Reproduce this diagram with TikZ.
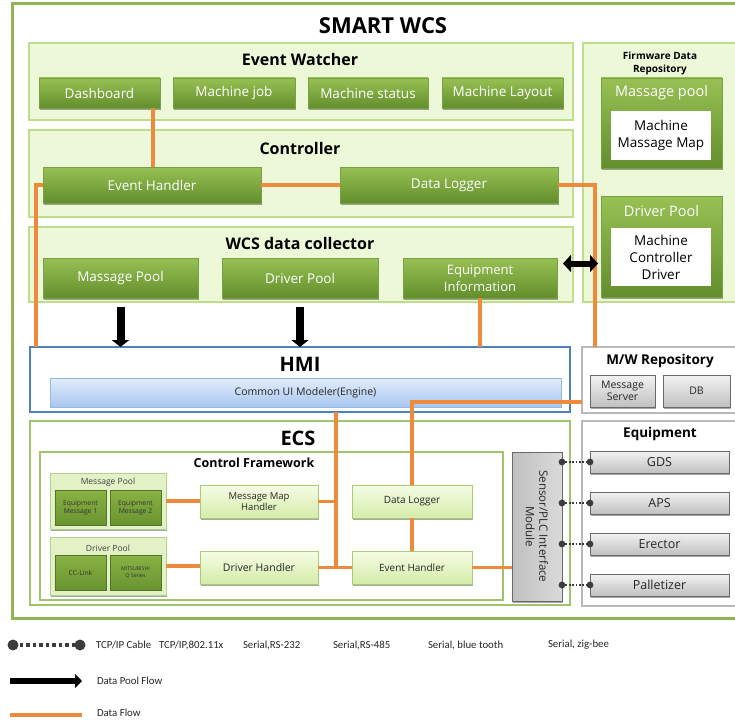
\documentclass[tikz,border=0pt]{standalone}
\usepackage{fontspec}
\setmainfont{Open Sans}
\newfontfamily\legendfont{Carlito}
\usetikzlibrary{arrows.meta,shadows,calc}
\definecolor{outerg}{RGB}{145,180,85}
\definecolor{pnlfill}{RGB}{236,248,216}
\definecolor{pnlborder}{RGB}{190,222,140}
\definecolor{btntop}{RGB}{152,192,84}
\definecolor{btnbot}{RGB}{98,142,44}
\definecolor{btnborder}{RGB}{120,160,70}
\definecolor{lgtop}{RGB}{246,252,230}
\definecolor{lgbot}{RGB}{212,236,168}
\definecolor{lgborder}{RGB}{168,204,118}
\definecolor{subfill}{RGB}{226,242,198}
\definecolor{subborder}{RGB}{178,210,138}
\definecolor{dgtop}{RGB}{138,178,68}
\definecolor{dgbot}{RGB}{104,148,48}
\definecolor{grtop}{RGB}{242,242,242}
\definecolor{grbot}{RGB}{192,192,192}
\definecolor{grborder}{RGB}{105,105,105}
\definecolor{grpanel}{RGB}{185,185,185}
\definecolor{hmiblue}{RGB}{79,129,189}
\definecolor{uitop}{RGB}{226,237,251}
\definecolor{uibot}{RGB}{168,198,240}
\definecolor{uiborder}{RGB}{150,185,225}
\definecolor{flowc}{RGB}{238,138,60}
\definecolor{ecsg}{RGB}{160,195,110}
\definecolor{dotc}{RGB}{60,60,60}
% box from corners: style, name, x1, y1, x2, y2, text
\newcommand\bx[7]{\node[#1, minimum width={#5-#3}, minimum height={#6-#4}] (#2) at ({(#3+#5)/2},{(#4+#6)/2}) {#7};}
\tikzset{
 every node/.style={inner sep=0pt, outer sep=0pt},
 outerbox/.style={draw=outerg, line width=3pt, fill=white},
 panel/.style={draw=pnlborder, line width=1.8pt, fill=pnlfill, pshadow},
 wpanel/.style={draw=ecsg, line width=2pt, fill=white},
 gpanel/.style={draw=grpanel, line width=1.8pt, fill=white},
 hmipanel/.style={draw=hmiblue, line width=1.8pt, fill=white},
 ttl/.style={font=\bfseries\fontsize{16}{19}\selectfont, text=black},
 bigttl/.style={font=\bfseries\fontsize{20}{23}\selectfont, text=black},
 smallttl/.style={font=\bfseries\fontsize{13.5}{16}\selectfont, text=black},
 mshadow/.style={drop shadow={shadow xshift=1.2pt, shadow yshift=-1.8pt, opacity=0.35, fill=black}},
 pshadow/.style={drop shadow={shadow xshift=1pt, shadow yshift=-1.2pt, opacity=0.15, fill=black}},
 btn/.style={draw=btnborder, line width=0.5pt, top color=btntop, bottom color=btnbot, text=white, align=center, font=\fontsize{13.5}{17}\selectfont, mshadow},
 whitebox/.style={fill=white, draw=none, align=center, font=\fontsize{13.5}{17}\selectfont, text=black},
 lbtn/.style={draw=lgborder, line width=0.6pt, top color=lgtop, bottom color=lgbot, align=center, font=\fontsize{10.5}{12}\selectfont, text=black!85, mshadow},
 subbox/.style={draw=subborder, line width=0.8pt, fill=subfill, mshadow},
 dbtn/.style={draw=dgbot!80!black, line width=0.4pt, top color=dgtop, bottom color=dgbot, align=center, font=\fontsize{6.8}{8}\selectfont, text=black!80},
 gbtn/.style={draw=grborder, line width=0.8pt, top color=grtop, bottom color=grbot, align=center, font=\fontsize{12.5}{14}\selectfont, text=black!85, mshadow},
 uibar/.style={draw=uiborder, line width=0.8pt, top color=uitop, bottom color=uibot, font=\fontsize{10.5}{12}\selectfont, text=black!85},
 flow/.style={draw=flowc, line width=3.2pt},
 cable/.style={draw=dotc, line width=1.4pt, dash pattern=on 1.8pt off 1.6pt},
 poolarrow/.style={draw=black, line width=8pt, -{Triangle[width=17pt,length=7pt]}},
 legtext/.style={anchor=west, font=\legendfont\fontsize{10.8}{13}\selectfont, text=black!85},
}
\begin{document}
\begin{tikzpicture}[x=1pt,y=-1pt]
\useasboundingbox (0,0) rectangle (735,722);
\clip (0,0) rectangle (735,722);

% outer
\bx{outerbox}{wcs}{12}{4}{745}{618}{}
\node[font=\bfseries\fontsize{22}{26}\selectfont] (wcst) at (383,26) {SMART WCS};

% Event watcher
\bx{panel}{ew}{29}{43}{573}{120}{}
\node[ttl] (ewt) at (300,60) {Event Watcher};
\bx{btn}{dash}{39}{78}{160}{108}{Dashboard}
\bx{btn}{mjob}{173}{78}{295}{108}{Machine job}
\bx{btn}{mstat}{308}{78}{428}{108}{Machine status}
\bx{btn}{mlay}{442}{78}{563}{108}{Machine Layout}

% Controller
\bx{panel}{ctrl}{29}{130}{573}{217}{}
\node[ttl] (ctrlt) at (300,148) {Controller};
\bx{btn}{evh}{43}{167}{261}{203}{Event Handler}
\bx{btn}{dlog}{340}{167}{558}{203}{Data Logger}

% WCS data collector
\bx{panel}{coll}{29}{227}{573}{302}{}
\node[ttl] (collt) at (300,243) {WCS data collector};
\bx{btn}{mpool}{43}{258}{198}{298}{Massage Pool}
\bx{btn}{dpool}{222}{258}{378}{298}{Driver Pool}
\bx{btn,font=\fontsize{13}{17}\selectfont}{einfo}{403}{258}{557}{298}{Equipment\\Information}

% Firmware data repository
\bx{panel}{fw}{583}{43}{745}{302}{}
\node[font=\bfseries\fontsize{10}{12.5}\selectfont, align=center] (fwt) at (660,63.5) {Firmware Data\\Repository};
\bx{btn}{fmp}{601}{78}{722}{168}{}
\node[text=white, font=\fontsize{14.5}{17}\selectfont] (fmpt) at (661.5,93) {Massage pool};
\bx{whitebox}{fmpi}{611}{111}{711}{160}{Machine\\Massage Map}
\bx{btn}{fdp}{601}{196}{722}{297}{}
\node[text=white, font=\fontsize{14.5}{17}\selectfont] (fdpt) at (661.5,211) {Driver Pool};
\bx{whitebox}{fdpi}{611}{228}{711}{286}{Machine\\Controller\\Driver}

% HMI
\bx{hmipanel}{hmi}{30}{347}{570}{412}{}
\node[bigttl] (hmit) at (300,364) {HMI};
\bx{uibar}{ui}{50}{378}{561}{407}{Common UI Modeler(Engine)}

% M/W repository
\bx{gpanel}{mw}{582}{347}{745}{413}{}
\node[smallttl] (mwt) at (660,361) {M/W Repository};
\bx{gbtn,font=\fontsize{10.5}{12}\selectfont}{msrv}{590}{375}{655}{407}{Message\\Server}
\bx{gbtn,font=\fontsize{10.5}{12}\selectfont}{db}{663}{375}{730}{407}{DB}

% ECS
\bx{wpanel}{ecs}{30}{421}{570}{605}{}
\node[bigttl] (ecst) at (298,438) {ECS};
\bx{draw=ecsg, line width=1.8pt, fill=white}{cf}{40}{452}{503}{600}{}
\node[font=\bfseries\fontsize{12.5}{15}\selectfont] (cft) at (254,463) {Control Framework};

\bx{subbox}{mpsub}{50}{473}{166}{529}{}
\node[font=\fontsize{8.5}{10}\selectfont, text=black!75] (mpsubt) at (108,482) {Message Pool};
\bx{dbtn}{em1}{55}{490}{106}{525}{Equipment\\Message 1}
\bx{dbtn}{em2}{110}{490}{161}{525}{Equipment\\Message 2}

\bx{subbox}{dpsub}{50}{537}{166}{595}{}
\node[font=\fontsize{8.5}{10}\selectfont, text=black!75] (dpsubt) at (108,548) {Driver Pool};
\bx{dbtn}{cc}{55}{555}{106}{590}{CC-Link}
\bx{dbtn,font=\fontsize{5.2}{6.5}\selectfont}{mq}{110}{555}{161}{590}{MITSUBISHI\\Q Series}

\bx{lbtn,font=\fontsize{9.5}{11}\selectfont}{mmh}{200}{485}{318}{518}{Message Map\\Handler}
\bx{lbtn}{drh}{200}{551}{318}{584}{Driver Handler}
\bx{lbtn,font=\fontsize{10}{12}\selectfont}{edl}{352}{485}{472}{518}{Data Logger}
\bx{lbtn,font=\fontsize{10}{12}\selectfont}{eeh}{352}{551}{472}{584}{Event Handler}

\bx{draw=grborder, line width=1pt, left color=grbot, right color=grtop!90!black, mshadow}{spm}{512}{452}{562}{601}{}
\node[rotate=-90, align=center, font=\fontsize{11.5}{13.5}\selectfont, text=black!85] (spmt) at (spm) {Sensor/PLC Interface\\Module};

% Equipment
\bx{gpanel}{eq}{582}{421}{745}{606}{}
\node[smallttl] (eqt) at (660,434) {Equipment};
\bx{gbtn}{gds}{590}{451}{729}{473}{GDS}
\bx{gbtn}{aps}{590}{492}{729}{514}{APS}
\bx{gbtn}{ere}{590}{533}{729}{555}{Erector}
\bx{gbtn}{pal}{590}{574}{729}{596}{Palletizer}

% helper coordinates
\coordinate (xdash) at (153,0);
\coordinate (xleft) at (36,0);
\coordinate (xright) at (595,0);
\coordinate (xmid) at (336,0);
\coordinate (ymw) at (0,402);

% data flow (orange)
\draw[flow] (dash.south -| xdash) -- (evh.north -| xdash);
\draw[flow] (evh.east) -- (dlog.west);
\draw[flow] (evh.west) -| (hmi.north -| xleft);
\draw[flow] (dlog.east) -| (mw.north -| xright);
\draw[flow] (einfo.south) -- (einfo.south |- hmi.north);
\draw[flow] (mw.west |- ymw) -| (edl.north);
\draw[flow] (hmi.south -| xmid) -- (drh.east -| xmid);
\draw[flow] (mmh.east) -- (mmh.east -| xmid);
\draw[flow] (drh.east) -- (eeh.west);
\draw[flow] (mpsub.east) -- (mpsub.east -| mmh.west);
\draw[flow] (dpsub.east) -- (dpsub.east -| drh.west);
\draw[flow] (edl.south) -- (eeh.north);
\draw[flow] (eeh.east) -- (eeh.east -| spm.west);

% data pool flow (black)
\draw[poolarrow] ($(mpool.south)+(0,9)$) -- (mpool.south |- hmi.north);
\draw[poolarrow] ($(dpool.south)+(0,9)$) -- (dpool.south |- hmi.north);
\draw[draw=black, line width=6pt, {Triangle[width=17pt,length=8pt]}-{Triangle[width=17pt,length=8pt]}]
  ($(coll.east)+(-10,-1)$) -- ($(fw.west |- coll.east)+(15,-1)$);

% cables
\foreach \e in {gds,aps,ere,pal}{
  \draw[cable] (spm.east |- \e.west) -- (\e.west);
  \fill[dotc] (spm.east |- \e.west) circle (3.4);
  \fill[dotc] (\e.west) circle (3.4);
}

% legend
\coordinate (l1a) at (13,645);
\coordinate (l1b) at (80,645);
\draw[draw=dotc, line width=4pt, dash pattern=on 3.5pt off 3pt] (l1a) -- (l1b);
\fill[dotc] (l1a) circle (5.5);
\fill[dotc] (l1b) circle (5.5);
\node[legtext] (lg1) at (96,645) {TCP/IP Cable};
\node[legtext] (lg2) at (159,645) {TCP/IP,802.11x};
\node[legtext] (lg3) at (243,645) {Serial,RS-232};
\node[legtext] (lg4) at (333,645) {Serial,RS-485};
\node[legtext] (lg5) at (428,645) {Serial, blue tooth};
\node[legtext] (lg6) at (548,645) {Serial, zig-bee};
\coordinate (l2a) at (10,681);
\coordinate (l2b) at (82,681);
\draw[draw=black, line width=6pt, -{Triangle[width=14pt,length=7pt]}] (l2a) -- (l2b);
\node[legtext] (lg7) at (97,681) {Data Pool Flow};
\coordinate (l3a) at (10,715);
\coordinate (l3b) at (82,715);
\draw[flow] (l3a) -- (l3b);
\node[legtext] (lg8) at (97,713) {Data Flow};
\end{tikzpicture}
\end{document}
